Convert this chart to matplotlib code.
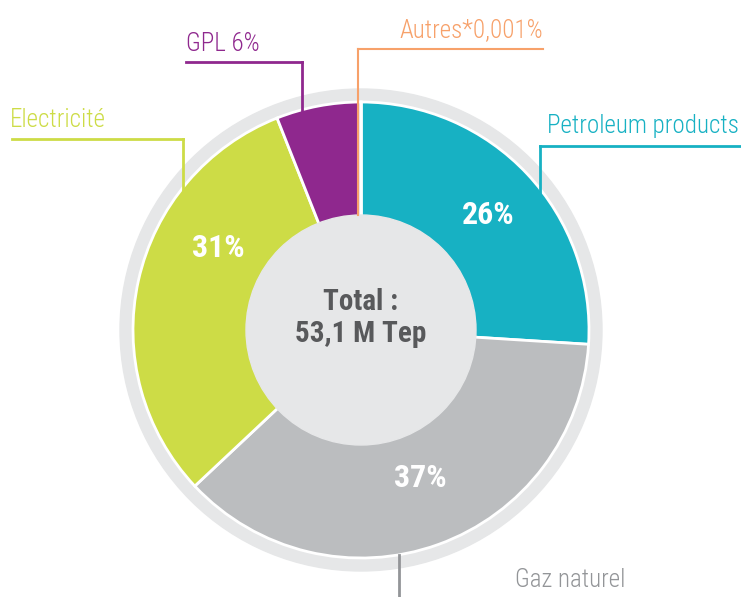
import matplotlib.pyplot as plt
from matplotlib.patches import Circle
from matplotlib import font_manager

# data
labels = ['Petroleum products', 'Gaz naturel', 'Electricité', 'GPL', 'Autres']
shares = [26, 37, 31, 6, 0.001]
colors = ['#17b1c3', '#bbbdbf', '#cddc46', '#8f288e', '#f7a16a']
pct_text = ['26%', '37%', '31%', None, None]

names = {f.name for f in font_manager.fontManager.ttflist}
cond = [f for f in ['Roboto Condensed', 'Liberation Sans Narrow', 'Open Sans Condensed'] if f in names]
fam = cond + ['DejaVu Sans']

W, H = 741, 597
fig = plt.figure(figsize=(W / 100, H / 100), dpi=100)
ax = fig.add_axes([0, 0, 1, 1])

def Y(yp):  # pixel row -> data y
    return H - yp

cx, cy = 361, Y(330)

# background ring and pie
ax.add_patch(Circle((cx, cy), 241, color='#e6e7e8', zorder=0))
ax.pie(shares, colors=colors, startangle=90, counterclock=False,
       center=(cx, cy), radius=228, frame=True,
       wedgeprops=dict(edgecolor='white', linewidth=2))
ax.set_xlim(0, W)
ax.set_ylim(0, H)
ax.set_aspect('equal')
ax.axis('off')
ax.add_patch(Circle((cx, cy), 115, color='#e6e7e8', zorder=5))

ax.text(cx, Y(318), 'Total :\n53,1 M Tep', ha='center', va='center',
        fontsize=21, fontweight='bold', color='#58595b', family=fam,
        linespacing=1.2, zorder=6)

# percentages inside
pct_pos = [(488, 215), (420, 478), (218, 248)]
for (px, py), t in zip(pct_pos, pct_text[:3]):
    ax.text(px, Y(py), t, ha='center', va='center', fontsize=23,
            fontweight='bold', color='white', family=fam, zorder=6)

lab = dict(fontsize=18, fontweight='light', family=fam)
lw = 2
ax.plot([540, 741], [Y(146), Y(146)], color=colors[0], lw=lw, zorder=7)
ax.plot([540, 540], [Y(146), Y(192)], color=colors[0], lw=lw, zorder=7)
ax.text(739, Y(126), 'Petroleum products', ha='right', va='center',
        color=colors[0], **lab)

ax.plot([399, 399], [Y(555), Y(597)], color='#939598', lw=lw, zorder=7)
ax.text(515, Y(580), 'Gaz naturel', ha='left', va='center',
        color='#939598', **lab)

ax.plot([12, 183], [Y(139), Y(139)], color=colors[2], lw=lw, zorder=7)
ax.plot([183, 183], [Y(139), Y(190)], color=colors[2], lw=lw, zorder=7)
ax.text(10, Y(120), 'Electricité', ha='left', va='center',
        color=colors[2], **lab)

ax.plot([186, 302], [Y(62), Y(62)], color=colors[3], lw=lw, zorder=7)
ax.plot([302, 302], [Y(62), Y(111)], color=colors[3], lw=lw, zorder=7)
ax.text(186, Y(44), 'GPL 6%', ha='left', va='center',
        color=colors[3], **lab)

ax.plot([358, 543], [Y(49), Y(49)], color=colors[4], lw=1.5, zorder=7)
ax.plot([358, 358], [Y(49), Y(215)], color=colors[4], lw=1.5, zorder=7)
ax.text(543, Y(30), 'Autres*0,001%', ha='right', va='center',
        color=colors[4], **lab)

fig.savefig('out.png', dpi=100)
